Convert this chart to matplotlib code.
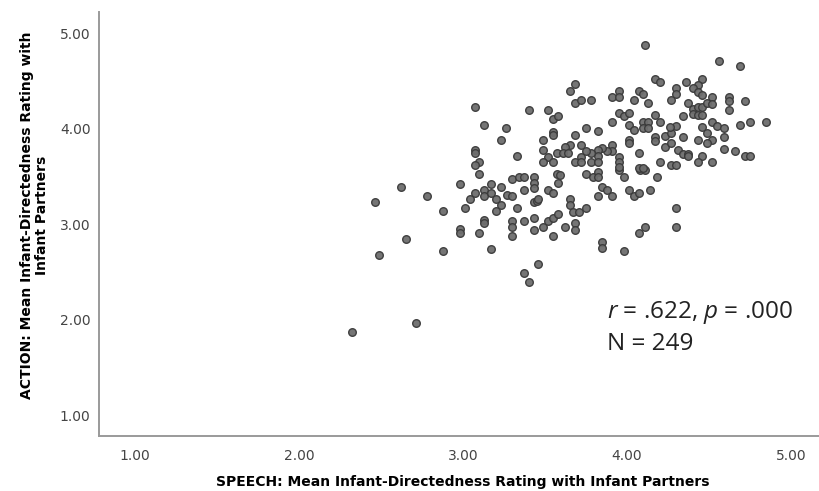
import matplotlib
matplotlib.use("Agg")
import matplotlib.pyplot as plt

# speech (x) / action (y) mean infant-directedness ratings
speech = [3.07, 3.40, 3.52, 3.55, 3.58, 3.13, 3.26, 3.23, 3.55, 3.55,
          3.49, 3.07, 3.07, 3.49, 3.33, 3.52, 3.57, 3.49, 3.55, 3.10,
          3.07, 3.10, 3.57, 3.30, 3.34, 3.37, 3.43,
          2.62, 2.98, 2.46, 2.78, 2.88, 3.01, 3.04, 3.07, 3.13, 3.13,
          3.17, 3.17, 3.20, 3.23, 3.23, 3.20, 3.27, 3.30, 3.43, 3.43,
          3.37, 3.33, 3.43, 3.45, 3.46, 3.52, 3.55, 3.59, 3.58, 3.13,
          3.13, 3.30, 3.30, 3.30, 3.37, 3.43, 3.43, 3.49, 3.52, 3.55,
          3.58, 3.55, 2.98, 2.98, 3.10, 2.65, 2.49, 2.88, 3.17, 3.46,
          3.37, 3.40, 2.71, 2.32,
          3.75, 3.79, 3.82, 3.82, 3.95, 3.98, 4.08, 4.11, 4.18, 3.85,
          3.88, 3.91, 3.82, 4.01, 4.04, 4.07, 4.14, 3.65, 3.65, 3.67,
          3.71, 3.75, 3.62, 3.68, 3.68, 3.85, 3.85, 3.98, 4.07, 4.11,
          4.30, 4.30,
          4.11, 4.56, 4.69, 4.17, 4.20, 4.36, 4.46, 4.43, 4.40, 4.43,
          4.30, 4.30, 4.27, 3.65, 3.68, 3.68, 3.72, 3.78, 3.91, 3.95,
          3.95, 4.04, 4.07, 4.10, 4.13, 4.37, 4.40, 4.43, 4.46, 4.49,
          4.46, 4.52, 4.52, 4.40, 4.43, 4.46, 4.62, 4.62, 4.62, 4.72,
          3.95, 3.98, 4.01, 3.91, 4.01, 4.04, 4.10, 4.13, 4.10, 4.13,
          4.17, 4.20, 4.34, 4.52, 4.55, 4.59, 4.69, 4.75, 4.85, 3.75,
          3.82, 3.68, 4.01, 4.01, 4.17, 4.17, 4.23, 4.27, 4.30, 4.26,
          4.34, 4.43, 4.46, 4.49, 4.52, 4.49, 4.59, 4.23, 4.27, 4.31,
          4.34, 4.37, 4.37, 4.59, 4.66, 4.72, 4.75, 4.46, 4.43, 4.52,
          4.20, 4.27, 4.30, 4.07, 4.07, 4.10, 3.91, 3.91, 3.95, 3.95,
          3.95, 3.88, 3.85, 3.82, 3.82, 3.78, 3.75, 3.72, 3.72, 3.65,
          3.62, 3.61, 3.64, 3.68, 3.72, 3.78, 3.82]

action = [4.23, 4.19, 4.19, 4.10, 4.13, 4.04, 4.01, 3.88, 3.96, 3.93,
          3.88, 3.77, 3.74, 3.77, 3.71, 3.70, 3.74, 3.65, 3.65, 3.65,
          3.62, 3.52, 3.52, 3.47, 3.49, 3.49, 3.49,
          3.39, 3.42, 3.23, 3.29, 3.14, 3.17, 3.26, 3.32, 3.36, 3.29,
          3.42, 3.32, 3.26, 3.39, 3.20, 3.14, 3.30, 3.29, 3.43, 3.38,
          3.36, 3.17, 3.23, 3.24, 3.26, 3.36, 3.32, 3.51, 3.43, 3.04,
          3.01, 3.03, 2.97, 2.87, 3.03, 3.06, 2.94, 2.97, 3.03, 3.06,
          3.10, 2.87, 2.95, 2.91, 2.91, 2.84, 2.68, 2.72, 2.74, 2.58,
          2.49, 2.39, 1.96, 1.87,
          3.52, 3.49, 3.54, 3.49, 3.57, 3.49, 3.57, 3.57, 3.49, 3.39,
          3.36, 3.29, 3.29, 3.36, 3.29, 3.32, 3.36, 3.26, 3.20, 3.13,
          3.13, 3.17, 2.97, 3.01, 2.94, 2.81, 2.75, 2.72, 2.91, 2.97,
          3.17, 2.97,
          4.87, 4.71, 4.65, 4.52, 4.49, 4.49, 4.52, 4.46, 4.42, 4.38,
          4.42, 4.36, 4.30, 4.39, 4.47, 4.27, 4.30, 4.30, 4.33, 4.39,
          4.33, 4.30, 4.39, 4.36, 4.27, 4.27, 4.20, 4.23, 4.23, 4.27,
          4.35, 4.33, 4.26, 4.15, 4.14, 4.14, 4.33, 4.29, 4.19, 4.29,
          4.16, 4.13, 4.16, 4.07, 4.04, 3.98, 4.07, 4.07, 4.01, 4.01,
          4.14, 4.07, 4.13, 4.07, 4.03, 4.01, 4.04, 4.07, 4.07, 4.01,
          3.97, 3.93, 3.88, 3.85, 3.91, 3.87, 3.92, 3.95, 4.03, 4.02,
          3.91, 3.88, 4.02, 3.95, 3.88, 3.85, 3.91, 3.81, 3.85, 3.77,
          3.73, 3.73, 3.71, 3.79, 3.76, 3.71, 3.71, 3.71, 3.65, 3.65,
          3.65, 3.62, 3.62, 3.74, 3.59, 3.59, 3.83, 3.76, 3.70, 3.65,
          3.60, 3.76, 3.80, 3.77, 3.71, 3.74, 3.76, 3.83, 3.70, 3.83,
          3.81, 3.74, 3.74, 3.65, 3.65, 3.65, 3.65]

ticks = [1.0, 2.0, 3.0, 4.0, 5.0]
tick_labels = ["1.00", "2.00", "3.00", "4.00", "5.00"]
stats_line = "$r$ = .622, $p$ = .000"
n_line = "N = 249"

plt.rcParams["mathtext.fontset"] = "custom"
plt.rcParams["mathtext.it"] = "Open Sans:italic"
plt.rcParams["mathtext.rm"] = "Open Sans"

fig = plt.figure(figsize=(8.19, 4.91), dpi=100)
ax = fig.add_axes([0.1209, 0.112, 0.889, 0.8635])

ax.scatter(speech, action, s=30, facecolor="#6e6e6e", edgecolor="#3a3a3a",
           linewidths=1.0, alpha=0.95, zorder=3)

ax.set_xlim(0.78, 5.22)
ax.set_ylim(0.78, 5.22)
ax.set_xticks(ticks)
ax.set_xticklabels(tick_labels)
ax.set_yticks(ticks)
ax.set_yticklabels(tick_labels)
ax.tick_params(length=0, labelsize=10, colors="#444444")
ax.tick_params(axis="x", pad=9)
ax.tick_params(axis="y", pad=6)

for side in ["top", "right"]:
    ax.spines[side].set_visible(False)
for side in ["left", "bottom"]:
    ax.spines[side].set_color("#9a9a9a")
    ax.spines[side].set_linewidth(1.4)

ax.set_xlabel("SPEECH: Mean Infant-Directedness Rating with Infant Partners",
              fontsize=10, fontweight="bold", labelpad=9)
ax.set_ylabel("ACTION: Mean Infant-Directedness Rating with\nInfant Partners",
              fontsize=10, fontweight="bold", linespacing=1.05)
ax.yaxis.set_label_coords(-0.069, 0.52)

ax.text(3.88, 2.07, stats_line, fontsize=17.5, family="Open Sans", color="#222222",
        va="center", ha="left")
ax.text(3.88, 1.74, n_line, fontsize=17.5, family="Open Sans", color="#222222",
        va="center", ha="left")

fig.savefig("out.png", dpi=100)
